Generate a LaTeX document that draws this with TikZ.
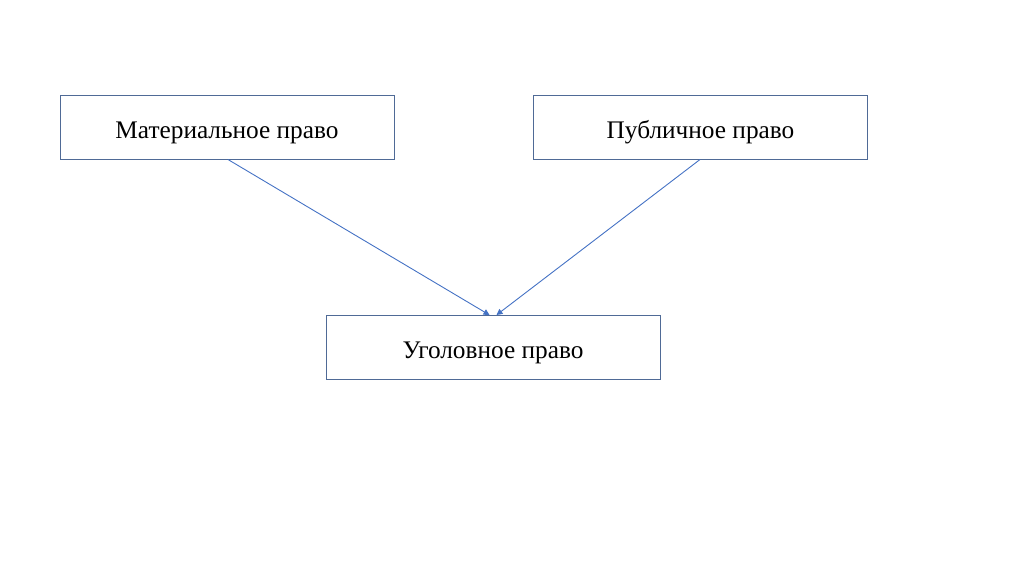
\documentclass[tikz,border=0pt]{standalone}
\usepackage{fontspec}
\setmainfont{Liberation Serif}
\usetikzlibrary{arrows.meta}
\definecolor{boxc}{HTML}{4F6A96}
\definecolor{arrc}{HTML}{4472C4}
\begin{document}
\begin{tikzpicture}[x=1pt,y=-1pt,
  box/.style={draw=boxc,line width=1pt,minimum width=334pt,minimum height=64pt,inner sep=0pt,
    text height=24pt,text depth=2.4pt,font=\fontsize{25.3}{30}\selectfont},
  conn/.style={draw=arrc,line width=0.9pt,-{Triangle[width=6pt,length=6pt]}}]
\useasboundingbox (0,0) rectangle (1024,574);
\node[box] (mat) at (227,127.5) {Материальное право};
\node[box] (pub) at (700.5,127.5) {Публичное право};
\node[box] (ug) at (493,347.5) {Уголовное право};
\coordinate (a1) at (228,159.5);
\coordinate (a2) at (700,159.5);
\coordinate (e1) at (489.5,315);
\coordinate (e2) at (496.5,315);
\draw[conn] (a1) -- (e1);
\draw[conn] (a2) -- (e2);
\end{tikzpicture}
\end{document}
